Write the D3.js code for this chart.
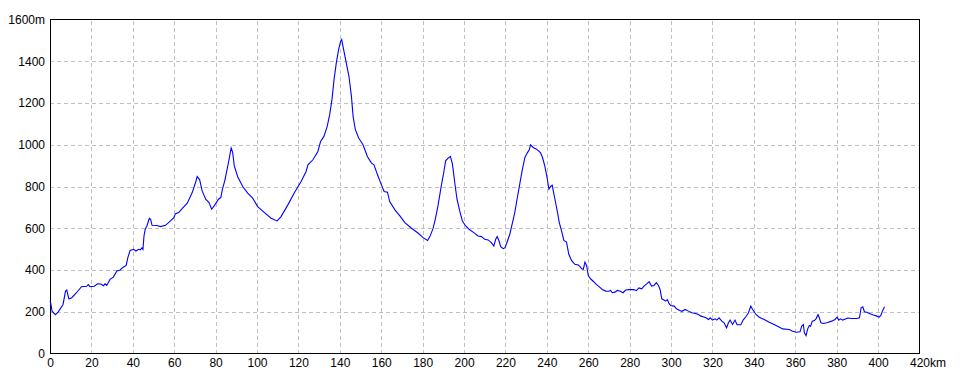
<!DOCTYPE html>
<html>
<head>
<meta charset="utf-8">
<script src="https://cdn.jsdelivr.net/npm/d3@7"></script>
<style>
  html, body { margin: 0; padding: 0; background: #fff; }
  svg { display: block; }
  text { font-family: "Liberation Sans", Arial, sans-serif; font-size: 12px; fill: #000; }
</style>
</head>
<body>
<svg id="chart" width="960" height="384"></svg>
<script>
// distance along the route (km)
const distanceKm = [
  0, 0.3, 1, 2.6, 3.9, 6.3, 7.5, 8.1, 9.1, 10.4, 12.8, 15.2, 17.7, 18.5, 19.3, 21.4, 23, 24.6, 25.8, 26.6,
  27.4, 29, 30.6, 32.3, 33.9, 35, 36.8, 37.6, 38.7, 40.4, 41.5, 42.8, 43.6, 44.4, 44.9, 45.4, 46, 46.8, 48, 48.6,
  49.3, 51.7, 53.3, 55.8, 58.2, 59.8, 60.6, 62.2, 63.8, 66.3, 68.7, 70.3, 71.1, 72.3, 73.5, 75.2, 76.8, 78.1, 79.3, 81.4,
  82.5, 83.3, 84.4, 85.4, 86.5, 87.5, 88.2, 89, 90.6, 93.1, 95.5, 97.9, 100.3, 103.6, 106.8, 109.7, 111.6, 114.9, 118.1, 121.3,
  123.7, 124.6, 127, 129.4, 130.7, 132.3, 133.9, 135.1, 136.2, 137.2, 138.3, 139.4, 140.4, 140.9, 141.5, 143.1, 144.4, 145.6, 146.4, 147.5,
  149.1, 151.2, 153.3, 155.3, 156.5, 158.2, 160.1, 161.4, 163, 164.1, 166.6, 169, 171.4, 174.6, 177.9, 180.2, 182.4, 183.5, 185, 186.1,
  187.4, 189, 190.2, 191.1, 192.3, 193.4, 194.4, 195.5, 196.6, 197.9, 199.2, 200.8, 202.4, 204.7, 206.8, 208.4, 210, 211.6, 213.2, 214.4,
  215.3, 216, 216.9, 217.7, 218.9, 219.8, 220.8, 222.1, 223.4, 224.5, 225.6, 226.9, 228.2, 229.4, 230.5, 231.5, 232.1, 233.4, 235, 236.9,
  237.9, 239, 240.1, 241, 241.8, 242.6, 243.1, 243.9, 245, 246, 247.1, 248.2, 249.5, 250.6, 251.9, 253.5, 255.2, 256, 256.8, 257.6,
  258.4, 259.2, 260, 261.1, 262.5, 264, 265.2, 266.8, 268.4, 270, 270.8, 271.6, 272.9, 274, 275.2, 276.8, 278.1, 279.7, 282.1, 283.2,
  284.5, 285.8, 286.9, 288.5, 289.4, 290.6, 291.8, 292.9, 293.9, 294.7, 295.5, 296.6, 297.4, 298.2, 299, 299.8, 301.5, 302.6, 304.2, 305.2,
  306.8, 308.4, 310, 311.9, 313.2, 314.4, 315.5, 316.8, 318.1, 318.9, 320, 321.3, 322.1, 323.2, 324.5, 325.6, 326.8, 327.7, 328.5, 329.7,
  330.9, 331.9, 333.7, 334.8, 336.1, 337.4, 338.5, 339.4, 341, 342.6, 345, 347.4, 349.8, 351.9, 353.9, 357.1, 358.7, 360.6, 362.3, 363.1,
  363.9, 364.4, 365.2, 366, 366.8, 367.4, 368.2, 369.2, 370, 371, 371.6, 372.4, 373.5, 375.2, 377.6, 379.2, 380.2, 381, 381.9, 382.9,
  384.5, 385.3, 387.3, 389.7, 391, 391.8, 392.6, 393.4, 394.5, 396.1, 397.7, 399.4, 400.5, 401.3, 402.1, 403.1
];
// elevation (m)
const elevationM = [
  250, 243, 203, 186, 198, 235, 299, 304, 262, 266, 291, 320, 322, 330, 320, 322, 334, 333, 325, 334,
  326, 355, 366, 395, 400, 411, 422, 459, 494, 499, 491, 499, 496, 506, 499, 563, 595, 611, 648, 643,
  614, 613, 608, 614, 635, 651, 670, 675, 694, 720, 771, 819, 848, 832, 779, 739, 723, 691, 707, 739,
  747, 787, 827, 875, 930, 985, 965, 900, 848, 800, 768, 744, 704, 675, 648, 635, 656, 712, 771, 824,
  872, 904, 928, 968, 1016, 1040, 1088, 1144, 1216, 1312, 1392, 1456, 1496, 1504, 1472, 1392, 1328, 1232, 1136, 1072,
  1032, 1000, 944, 912, 904, 856, 808, 776, 773, 728, 688, 659, 627, 600, 576, 555, 541, 560, 598, 643,
  707, 803, 867, 923, 936, 944, 907, 819, 739, 683, 635, 611, 595, 579, 563, 560, 547, 544, 531, 515,
  547, 560, 539, 512, 502, 507, 534, 571, 627, 675, 739, 811, 883, 939, 960, 976, 1000, 987, 979, 963,
  939, 899, 843, 787, 800, 806, 779, 739, 683, 627, 587, 542, 534, 475, 446, 427, 424, 416, 406, 403,
  438, 422, 373, 358, 345, 330, 320, 307, 299, 298, 302, 291, 294, 302, 299, 291, 304, 306, 306, 301,
  314, 310, 323, 336, 344, 323, 326, 339, 326, 307, 262, 256, 251, 258, 240, 230, 227, 214, 206, 202,
  211, 203, 195, 192, 187, 179, 176, 171, 163, 171, 160, 166, 160, 171, 155, 147, 123, 147, 160, 139,
  160, 138, 138, 160, 176, 195, 227, 211, 187, 174, 163, 150, 139, 128, 118, 115, 107, 102, 104, 131,
  138, 99, 86, 118, 134, 131, 155, 158, 166, 186, 171, 147, 144, 147, 155, 163, 174, 160, 166, 160,
  166, 170, 168, 168, 171, 219, 224, 200, 198, 190, 184, 179, 174, 182, 203, 224
];
const xTicks = [0, 20, 40, 60, 80, 100, 120, 140, 160, 180, 200, 220, 240, 260, 280, 300, 320, 340, 360, 380, 400, 420];
const yTicks = [0, 200, 400, 600, 800, 1000, 1200, 1400, 1600];
const xMax = 420, yMax = 1600;
const xUnit = "km", yUnit = "m";

const svg = d3.select("#chart");
const L = 50, R = 919.5, T = 19.5, B = 353.5;
const x = d3.scaleLinear().domain([0, xMax]).range([L, R]);
const y = d3.scaleLinear().domain([0, yMax]).range([B, T]);

// x axis with vertical grid
const gx = svg.append("g").attr("transform", `translate(0,${B})`)
  .call(d3.axisBottom(x).tickValues(xTicks).tickSize(-(B - T)).tickPadding(5)
    .tickFormat(d => d === xMax ? d + xUnit : String(d)));
gx.select(".domain").remove();
gx.selectAll(".tick line")
  .attr("stroke", "#c0c0c0").attr("stroke-dasharray", "4,3").attr("shape-rendering", "crispEdges")
  .filter(d => d === 0 || d === xMax).remove();
gx.selectAll(".tick text").attr("font-size", 12).attr("font-family", "Liberation Sans, Arial, sans-serif");
// the last label: center the number on its tick, unit following
gx.selectAll(".tick text").filter(d => d === xMax).each(function () {
  const tmp = gx.append("text").attr("font-size", 12).text(String(xMax));
  const w = tmp.node().getComputedTextLength();
  tmp.remove();
  d3.select(this).attr("text-anchor", "start").attr("x", -w / 2);
});

// y axis with horizontal grid
const gy = svg.append("g").attr("transform", `translate(${L},0)`)
  .call(d3.axisLeft(y).tickValues(yTicks).tickSize(-(R - L)).tickPadding(5)
    .tickFormat(d => d === yMax ? d + yUnit : String(d)));
gy.select(".domain").remove();
gy.selectAll(".tick line")
  .attr("stroke", "#c0c0c0").attr("stroke-dasharray", "4,3").attr("shape-rendering", "crispEdges")
  .filter(d => d === 0 || d === yMax).remove();
gy.selectAll(".tick text").attr("font-size", 12).attr("font-family", "Liberation Sans, Arial, sans-serif");

// frame
svg.append("rect")
  .attr("x", L).attr("y", T).attr("width", R - L).attr("height", B - T)
  .attr("fill", "none").attr("stroke", "#000").attr("stroke-width", 1).attr("shape-rendering", "crispEdges");

// elevation profile
const pts = distanceKm.map((d, i) => [d, elevationM[i]]);
const line = d3.line().x(d => x(d[0])).y(d => y(d[1]));
svg.append("path").datum(pts)
  .attr("d", line).attr("fill", "none").attr("stroke", "#0000ff").attr("stroke-width", 1.1);
</script>
</body>
</html>
